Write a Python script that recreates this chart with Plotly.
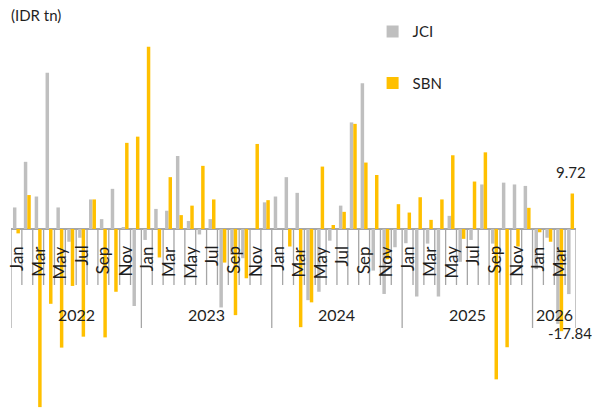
import plotly.graph_objects as go

# ---- data (IDR tn, monthly net flows) ----
years = [2022, 2023, 2024, 2025, 2026]
month_names = ["Jan", "Feb", "Mar", "Apr", "May", "Jun",
               "Jul", "Aug", "Sep", "Oct", "Nov", "Dec"]
n_months_last_year = 4  # Jan-Apr 2026

jci = [5.9, 18.4, 8.9, 42.8, 5.9, -3.5, -2.4, 8.1, 2.7, 11.0, 0.4, -21.1,
       -3.0, 5.5, 5.0, 20.0, 2.2, -1.5, 2.7, -21.5, -7.0, -8.0, 0.0, 7.3,
       8.9, 14.2, 9.9, -19.5, -17.2, -3.2, 6.4, 29.2, 39.9, -11.4, -17.8, -5.0,
       -3.9, -18.5, -4.0, -18.5, 3.6, -9.0, -3.0, 12.2, -4.0, 12.7, 12.2, 11.8,
       -11.0, -2.4, -26.0, -17.84]
sbn = [-1.2, 9.3, -48.8, -20.5, -32.5, -15.6, -29.5, 8.1, -29.7, -17.2, 23.6, 25.3,
       49.9, -7.8, 14.2, 3.8, 6.4, 17.3, 8.1, -9.2, -23.6, -13.5, 23.3, 7.9,
       0.0, -4.8, -26.9, -20.1, 17.1, 1.1, 4.7, 28.8, 18.2, 14.8, -8.3, 6.8,
       4.5, 8.7, 2.5, 8.1, 20.2, -2.7, 13.0, 21.0, -41.2, -32.4, -4.8, 5.8,
       -0.9, -3.5, -28.0, 9.72]

# categories
cats, mlab = [], []
for y in years:
    n = n_months_last_year if y == years[-1] else 12
    for m in range(n):
        cats.append(f"{y}-{m + 1:02d}")
        mlab.append(month_names[m])

GREY = "#BFBFBF"
GOLD = "#FFC000"
TXT = "#1f1f1f"
AXC = "#A6A6A6"
FONT = "Lato"

fig = go.Figure()
fig.add_bar(x=cats, y=jci, name="JCI", marker_color=GREY, marker_line_width=0,
            legendgroup="jci")
fig.add_bar(x=cats, y=sbn, name="SBN", marker_color=GOLD, marker_line_width=0,
            legendgroup="sbn")

shapes = []
annotations = []
n = len(cats)
year_starts = [i for i, c in enumerate(cats) if c.endswith("-01")]
for k in range(n + 1):
    long_tick = (k in year_starts) or k == n
    shapes.append(dict(type="line", xref="x", yref="y", ysizemode="pixel",
                       yanchor=0, x0=k - 0.5, x1=k - 0.5, y0=0,
                       y1=-99 if long_tick else -56,
                       line=dict(color=AXC, width=1.3), layer="above"))

# month labels (every other month)
for i, c in enumerate(cats):
    if int(c[-2:]) % 2 == 1:
        annotations.append(dict(x=c, y=0, xref="x", yref="y", text=mlab[i],
                                textangle=-90, showarrow=False, yanchor="top",
                                xanchor="center", yshift=-15,
                                font=dict(family=FONT, size=17, color=TXT)))
# year labels
for y in years:
    idx = [i for i, c in enumerate(cats) if c.startswith(str(y))]
    annotations.append(dict(x=(idx[0] + idx[-1]) / 2, y=0, xref="x", yref="y",
                            text=str(y), showarrow=False, yanchor="middle",
                            yshift=-86, font=dict(family=FONT, size=16, color=TXT)))

# value labels for the latest month
annotations.append(dict(x=cats[-1], y=sbn[-1], xref="x", yref="y",
                        text=f"{sbn[-1]:.2f}", showarrow=False, yanchor="middle",
                        yshift=22, font=dict(family=FONT, size=15, color=TXT)))
annotations.append(dict(x=cats[-1], y=jci[-1], xref="x", yref="y",
                        text=f"{jci[-1]:.2f}", showarrow=False, yanchor="middle",
                        yshift=-39, xshift=-1,
                        font=dict(family=FONT, size=15, color=TXT)))
# unit label
annotations.append(dict(x=0, y=1, xref="paper", yref="paper", text="(IDR tn)",
                        showarrow=False, xanchor="left", yanchor="middle",
                        xshift=-2, yshift=25,
                        font=dict(family=FONT, size=15, color=TXT)))

fig.update_layout(
    width=592, height=409,
    margin=dict(l=11, r=16, t=40, b=0),
    paper_bgcolor="white", plot_bgcolor="white",
    barmode="group", bargap=0.36, bargroupgap=0,
    font=dict(family=FONT, size=15, color=TXT),
    showlegend=True,
    legend=dict(x=0.64, y=1.067, xanchor="left", yanchor="top",
                traceorder="grouped", tracegroupgap=29,
                font=dict(family=FONT, size=15, color=TXT),
                bgcolor="rgba(0,0,0,0)"),
    xaxis=dict(type="category", showticklabels=False, showgrid=False,
               ticks="", showline=False, zeroline=False,
               range=[-0.5, n - 0.5]),
    yaxis=dict(visible=True, showticklabels=False, showgrid=False,
               zeroline=True, zerolinecolor=AXC, zerolinewidth=1.5,
               range=[-49.32, 51.78], showline=False, ticks=""),
    shapes=shapes, annotations=annotations,
)

fig.write_html("out.html")
